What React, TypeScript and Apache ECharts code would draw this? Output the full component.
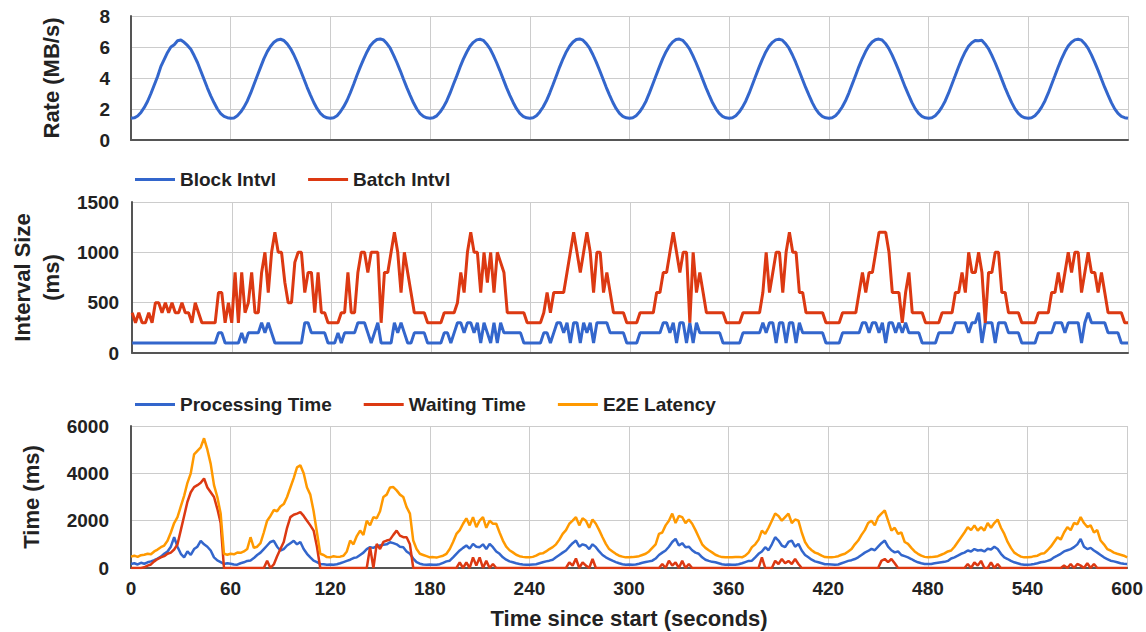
import React, { useEffect, useRef } from "react";
import * as echarts from "echarts";

// Sampling step of every series below (seconds since start)
const STEP_S = 2;

// Rate (MB/s), one row per 60 s
const RATE_MBPS = [
  1.40,1.43,1.55,1.78,2.10,2.50,3.00,3.55,4.10,4.75,5.20,5.65,6.00,6.15,6.40,6.45,6.30,6.10,5.85,5.45,5.00,4.45,3.90,3.35,2.85,2.40,2.00,1.70,1.52,1.44,
  1.40,1.42,1.56,1.80,2.12,2.52,3.02,3.58,4.15,4.70,5.25,5.70,6.05,6.30,6.45,6.50,6.42,6.20,5.90,5.50,5.02,4.50,3.95,3.40,2.90,2.42,2.02,1.72,1.53,1.43,
  1.40,1.44,1.57,1.82,2.15,2.55,3.05,3.60,4.18,4.72,5.22,5.68,6.08,6.32,6.48,6.52,6.45,6.22,5.92,5.48,5.00,4.48,3.92,3.38,2.88,2.40,2.00,1.70,1.52,1.43,
  1.41,1.44,1.56,1.80,2.12,2.52,3.02,3.58,4.12,4.70,5.22,5.66,6.05,6.30,6.46,6.50,6.43,6.20,5.90,5.48,5.00,4.48,3.93,3.38,2.88,2.42,2.02,1.72,1.53,1.43,
  1.40,1.43,1.56,1.81,2.13,2.53,3.03,3.58,4.15,4.72,5.24,5.70,6.06,6.32,6.48,6.52,6.44,6.22,5.92,5.50,5.02,4.50,3.95,3.40,2.90,2.42,2.02,1.72,1.52,1.43,
  1.40,1.44,1.57,1.80,2.12,2.52,3.04,3.60,4.16,4.72,5.25,5.70,6.07,6.33,6.48,6.51,6.43,6.20,5.90,5.48,5.00,4.48,3.93,3.38,2.88,2.40,2.01,1.71,1.52,1.43,
  1.40,1.43,1.56,1.80,2.12,2.52,3.02,3.58,4.14,4.70,5.22,5.68,6.05,6.30,6.46,6.50,6.44,6.22,5.92,5.50,5.02,4.48,3.94,3.39,2.89,2.41,2.01,1.71,1.52,1.43,
  1.40,1.44,1.57,1.81,2.13,2.53,3.03,3.59,4.15,4.72,5.24,5.69,6.06,6.32,6.47,6.51,6.45,6.23,5.91,5.49,5.01,4.49,3.94,3.39,2.89,2.41,2.01,1.71,1.52,1.43,
  1.40,1.43,1.56,1.80,2.12,2.52,3.02,3.58,4.14,4.71,5.23,5.68,6.05,6.28,6.42,6.40,6.44,6.20,5.90,5.48,5.00,4.48,3.93,3.38,2.88,2.41,2.01,1.71,1.52,1.43,
  1.40,1.43,1.56,1.80,2.12,2.52,3.02,3.58,4.14,4.71,5.23,5.69,6.06,6.31,6.46,6.50,6.44,6.21,5.91,5.49,5.01,4.49,3.94,3.39,2.89,2.41,2.01,1.71,1.52,1.44,1.40,
];

// Block interval (ms)
const BLOCK_INTVL_MS = [
  100,100,100,100,100,100,100,100,100,100,100,100,100,100,100,100,100,100,100,100,100,100,100,100,100,100,200,200,100,100,
  100,100,100,200,100,200,200,200,200,300,200,300,200,100,100,100,100,100,100,100,100,100,300,300,200,200,200,200,200,100,
  100,100,200,100,200,200,200,200,300,300,300,200,100,200,300,100,100,100,100,300,200,300,200,100,100,200,200,200,200,100,
  100,100,100,100,200,200,100,200,300,300,200,300,300,200,300,100,300,200,100,300,100,300,200,200,200,200,200,200,100,100,
  100,100,100,100,200,200,100,200,300,300,200,300,100,300,300,100,300,200,300,100,300,300,300,300,200,200,200,200,200,100,
  100,100,100,200,200,200,200,200,200,200,300,300,200,300,100,300,300,100,300,100,300,200,200,200,200,200,200,200,100,100,
  100,100,100,100,200,200,200,200,200,200,300,200,300,300,100,300,300,100,300,300,100,300,200,200,200,200,200,200,200,100,
  100,100,100,100,200,200,200,200,200,200,300,300,200,300,300,200,300,100,300,300,200,300,200,300,200,200,200,200,100,100,
  100,100,100,200,200,200,200,200,300,300,300,300,200,300,300,400,100,300,300,300,100,300,300,300,200,200,200,200,100,100,
  100,100,100,200,200,200,200,200,300,300,300,200,300,300,300,300,100,300,400,300,300,300,300,300,200,200,200,200,100,100,100,
];

// Batch interval (ms)
const BATCH_INTVL_MS = [
  400,300,400,300,300,400,300,500,500,400,500,400,500,400,400,500,400,400,300,500,400,300,300,300,300,300,600,600,300,500,
  300,800,300,800,400,500,800,400,400,800,1000,600,1000,1200,1000,1000,700,500,500,900,1000,1000,600,800,800,400,800,400,400,300,
  300,300,300,400,400,800,400,400,800,1000,1000,800,1000,1000,1000,300,800,800,1000,1200,1000,600,1000,800,600,400,400,400,400,300,
  300,300,300,300,400,400,400,400,500,800,600,1000,1200,1000,1000,600,1000,700,1000,600,1000,900,800,400,400,400,400,400,400,300,
  300,300,300,300,400,600,400,600,600,600,600,800,1000,1200,1000,800,1000,1200,1000,600,1000,1000,600,800,600,400,400,400,400,300,
  300,300,300,400,400,400,400,400,600,600,800,800,1000,1200,1000,800,1000,1000,300,1000,600,800,600,400,400,400,400,400,400,300,
  300,300,300,300,400,400,400,400,400,400,600,1000,600,800,1000,1000,600,1000,1200,1000,1000,600,600,400,400,400,400,400,400,300,
  300,300,300,300,400,400,400,400,400,600,800,600,800,800,1000,1200,1200,1200,1000,600,600,600,300,600,800,400,400,400,400,300,
  300,300,300,300,400,400,400,400,600,600,800,600,1000,800,800,1000,800,300,800,800,1000,1000,600,600,400,400,400,400,300,300,
  300,300,300,400,400,400,400,600,600,800,600,800,1000,800,1000,1000,600,800,1000,800,800,600,800,600,400,400,400,400,400,300,300,
];

// Processing time (ms)
const PROCESSING_MS = [
  170,200,150,220,180,240,280,330,400,480,600,700,900,1300,900,600,450,700,550,800,900,1150,1000,900,740,450,320,250,170,200,
  180,150,140,200,240,300,320,420,550,650,800,950,1100,1150,900,740,800,950,1050,1150,1000,1100,800,600,450,310,250,170,160,140,
  150,140,160,200,250,300,350,420,450,550,650,800,880,850,920,950,980,1000,1090,1050,1000,900,880,700,600,400,250,180,150,140,
  150,140,140,160,220,280,310,450,600,740,850,950,820,1020,900,880,1000,800,1020,880,700,600,450,350,280,240,200,170,150,140,
  140,150,160,200,240,280,310,350,450,550,650,740,900,1050,1160,900,1000,950,800,1000,880,700,550,450,380,310,250,200,160,140,
  150,140,150,180,220,250,280,310,400,550,650,740,900,1100,1230,950,1050,880,900,750,650,600,450,350,300,260,240,200,160,140,
  150,140,140,160,200,250,300,310,450,600,700,880,750,1000,1300,1160,950,880,1100,1160,900,1020,740,550,450,350,280,240,200,160,
  160,150,140,150,200,250,300,330,380,450,550,650,720,810,750,900,1050,1160,900,750,660,700,550,500,450,380,300,240,200,170,
  170,170,200,220,240,260,300,400,450,520,600,650,740,700,800,740,760,700,810,780,900,800,600,450,380,300,240,200,160,140,
  140,150,170,200,240,260,300,350,450,520,600,700,750,800,880,1000,1230,900,800,850,740,650,550,450,380,310,280,240,200,180,170,
];

// Waiting time (ms)
const WAITING_MS = [
  0,0,0,0,30,100,150,280,380,450,500,600,650,780,1000,1600,2200,2800,3200,3420,3500,3600,3780,3400,3200,3000,2500,1900,0,0,
  0,0,0,0,0,0,0,0,0,0,0,310,0,150,500,800,1100,1700,2150,2250,2300,2360,2200,2000,1800,1580,900,0,0,0,
  0,0,0,0,0,0,0,0,0,0,0,0,880,0,1020,800,1100,1160,1200,1400,1580,1370,1300,1300,1000,0,0,0,0,0,
  0,0,0,0,0,0,0,0,0,240,0,240,0,450,100,450,0,300,0,170,0,0,0,0,0,0,0,0,0,0,
  0,0,0,0,0,0,0,0,0,0,0,0,240,100,400,0,240,100,0,380,0,0,0,0,0,0,0,0,0,0,
  0,0,0,0,0,0,0,0,0,0,170,0,310,100,240,0,310,0,170,0,0,0,0,0,0,0,0,0,0,0,
  0,0,0,0,0,0,0,0,0,0,450,0,0,0,300,170,380,200,300,170,380,170,0,0,0,0,0,0,0,0,
  0,0,0,0,0,0,0,0,0,0,0,0,0,0,0,0,300,380,250,380,200,0,0,0,0,0,0,0,0,0,
  0,0,0,0,0,0,0,0,0,0,0,0,170,0,240,100,300,0,0,240,0,170,0,0,0,0,0,0,0,0,
  0,0,0,0,0,0,0,0,0,0,0,100,0,170,0,170,100,0,200,0,170,0,0,0,0,0,0,0,0,0,0,
];

// End-to-end latency (ms)
const E2E_LATENCY_MS = [
  480,520,470,540,560,600,580,700,780,880,950,1150,1500,1900,2150,2600,3050,3600,4000,4800,4950,5100,5480,5000,4400,3500,3000,2300,600,560,
  600,580,650,640,700,800,1300,850,900,1050,1500,2000,2200,2450,2400,2600,2700,3000,3400,3800,4250,4340,4000,3400,3100,2400,1500,600,550,460,
  450,500,470,480,520,700,1160,1000,1350,1580,1400,2000,1800,2150,2100,2400,3000,3100,3400,3420,3280,3100,3000,2575,2300,1160,800,600,550,500,
  450,460,440,480,520,600,800,1100,1440,1600,1870,2100,1800,2150,1730,2000,2150,1700,2000,1870,1870,1500,1160,900,750,660,560,500,470,450,
  450,470,520,600,620,700,800,880,1000,1200,1440,1600,1870,2000,2150,1800,2100,2000,1700,2050,1870,1600,1300,1020,800,700,600,520,480,450,
  450,460,480,500,550,600,700,850,1000,1440,1500,1800,2000,2300,1900,2200,2150,1900,2050,1870,1600,1300,1000,850,750,660,560,500,460,450,
  450,450,460,470,450,520,650,880,1000,1200,1580,1440,1700,2000,2300,2200,2000,2150,2300,1900,2050,2000,1500,1100,880,750,650,600,520,460,
  450,450,470,500,560,600,700,800,1000,1160,1400,1600,1900,2000,1800,2150,2300,2430,2000,1580,1700,1440,1500,1100,1020,850,700,600,520,470,
  450,460,480,500,560,620,700,740,900,1100,1300,1500,1730,1600,1800,1580,1730,1580,1900,1700,1900,2050,1700,1440,1100,850,650,560,480,450,
  450,460,500,520,600,620,750,900,1100,1300,1200,1500,1730,1600,1900,1850,2150,1900,1730,1800,1500,1600,1160,1000,800,740,650,600,560,520,450,
];

const BLUE = "#3366cc";
const RED = "#dc3912";
const ORANGE = "#ff9900";
const FONT = "'Liberation Sans', Arial, sans-serif";
const TEXT = "#222222";

const toPairs = (vals: number[]) => vals.map((v, i) => [i * STEP_S, v]);

function lineSeries(name: string, vals: number[], color: string, idx: number, width: number) {
  return {
    name,
    type: "line",
    xAxisIndex: idx,
    yAxisIndex: idx,
    data: toPairs(vals),
    showSymbol: false,
    symbol: "none",
    color,
    lineStyle: { color, width },
    emphasis: { disabled: true },
  };
}

export default function App() {
  const ref = useRef<HTMLDivElement>(null);
  useEffect(() => {
    if (!ref.current) return;
    const chart = echarts.init(ref.current, null, { renderer: "svg" });
    const grids = [
      { left: 131, top: 16, width: 997, height: 124 },
      { left: 131, top: 202, width: 997, height: 151 },
      { left: 131, top: 426, width: 997, height: 142 },
    ];
    const axisLine = { show: true, lineStyle: { color: "#555555", width: 2 } };
    const splitLine = { show: true, lineStyle: { color: "#cccccc", width: 1 } };
    const tickLabel = {
      color: TEXT,
      fontSize: 19,
      fontWeight: "bold",
      fontFamily: FONT,
      formatter: (v: number) => String(v),
    };
    const nameStyle = { color: TEXT, fontSize: 22, fontWeight: "bold", fontFamily: FONT };
    const xAxis = [0, 1, 2].map((i) => ({
      type: "value",
      gridIndex: i,
      min: 0,
      max: 600,
      interval: 60,
      axisLine,
      axisTick: { show: false },
      axisLabel: { show: i === 2, margin: 11, ...tickLabel },
      splitLine,
      ...(i === 2
        ? {
            name: "Time since start (seconds)",
            nameLocation: "middle",
            nameGap: 39,
            nameTextStyle: nameStyle,
          }
        : {}),
    }));
    const yCfg = [
      { max: 8, interval: 2, margin: 21, name: "Rate (MB/s)", gap: 69, lh: 22 },
      { max: 1500, interval: 500, margin: 13, name: "Interval Size\n(ms)", gap: 64, lh: 29 },
      { max: 6000, interval: 2000, margin: 22, name: "Time (ms)", gap: 89, lh: 22 },
    ];
    const yAxis = yCfg.map((c, i) => ({
      type: "value",
      gridIndex: i,
      min: 0,
      max: c.max,
      interval: c.interval,
      axisLine,
      axisTick: { show: false },
      axisLabel: { margin: c.margin, ...tickLabel },
      splitLine,
      name: c.name,
      nameLocation: "middle",
      nameRotate: 90,
      nameGap: c.gap,
      nameTextStyle: { ...nameStyle, lineHeight: c.lh, align: "center" },
    }));
    const legendBase = {
      left: 130,
      icon: "rect",
      itemWidth: 40,
      itemHeight: 3,
      itemGap: 32,
      selectedMode: false,
      textStyle: { color: TEXT, fontSize: 19, fontWeight: "bold", fontFamily: FONT },
    };
    chart.setOption({
      animation: false,
      backgroundColor: "#ffffff",
      textStyle: { fontFamily: FONT },
      grid: grids,
      xAxis,
      yAxis,
      legend: [
        { ...legendBase, top: 165, data: ["Block Intvl", "Batch Intvl"] },
        { ...legendBase, top: 390, data: ["Processing Time", "Waiting Time", "E2E Latency"] },
      ],
      series: [
        lineSeries("Rate", RATE_MBPS, BLUE, 0, 3),
        lineSeries("Block Intvl", BLOCK_INTVL_MS, BLUE, 1, 3),
        lineSeries("Batch Intvl", BATCH_INTVL_MS, RED, 1, 3),
        lineSeries("Processing Time", PROCESSING_MS, BLUE, 2, 2.5),
        lineSeries("Waiting Time", WAITING_MS, RED, 2, 2.5),
        lineSeries("E2E Latency", E2E_LATENCY_MS, ORANGE, 2, 2.5),
      ],
    });
    return () => chart.dispose();
  }, []);
  return (
    <div
      ref={ref}
      style={{ position: "fixed", left: 0, top: 0, width: 1146, height: 632, background: "#fff" }}
    />
  );
}
